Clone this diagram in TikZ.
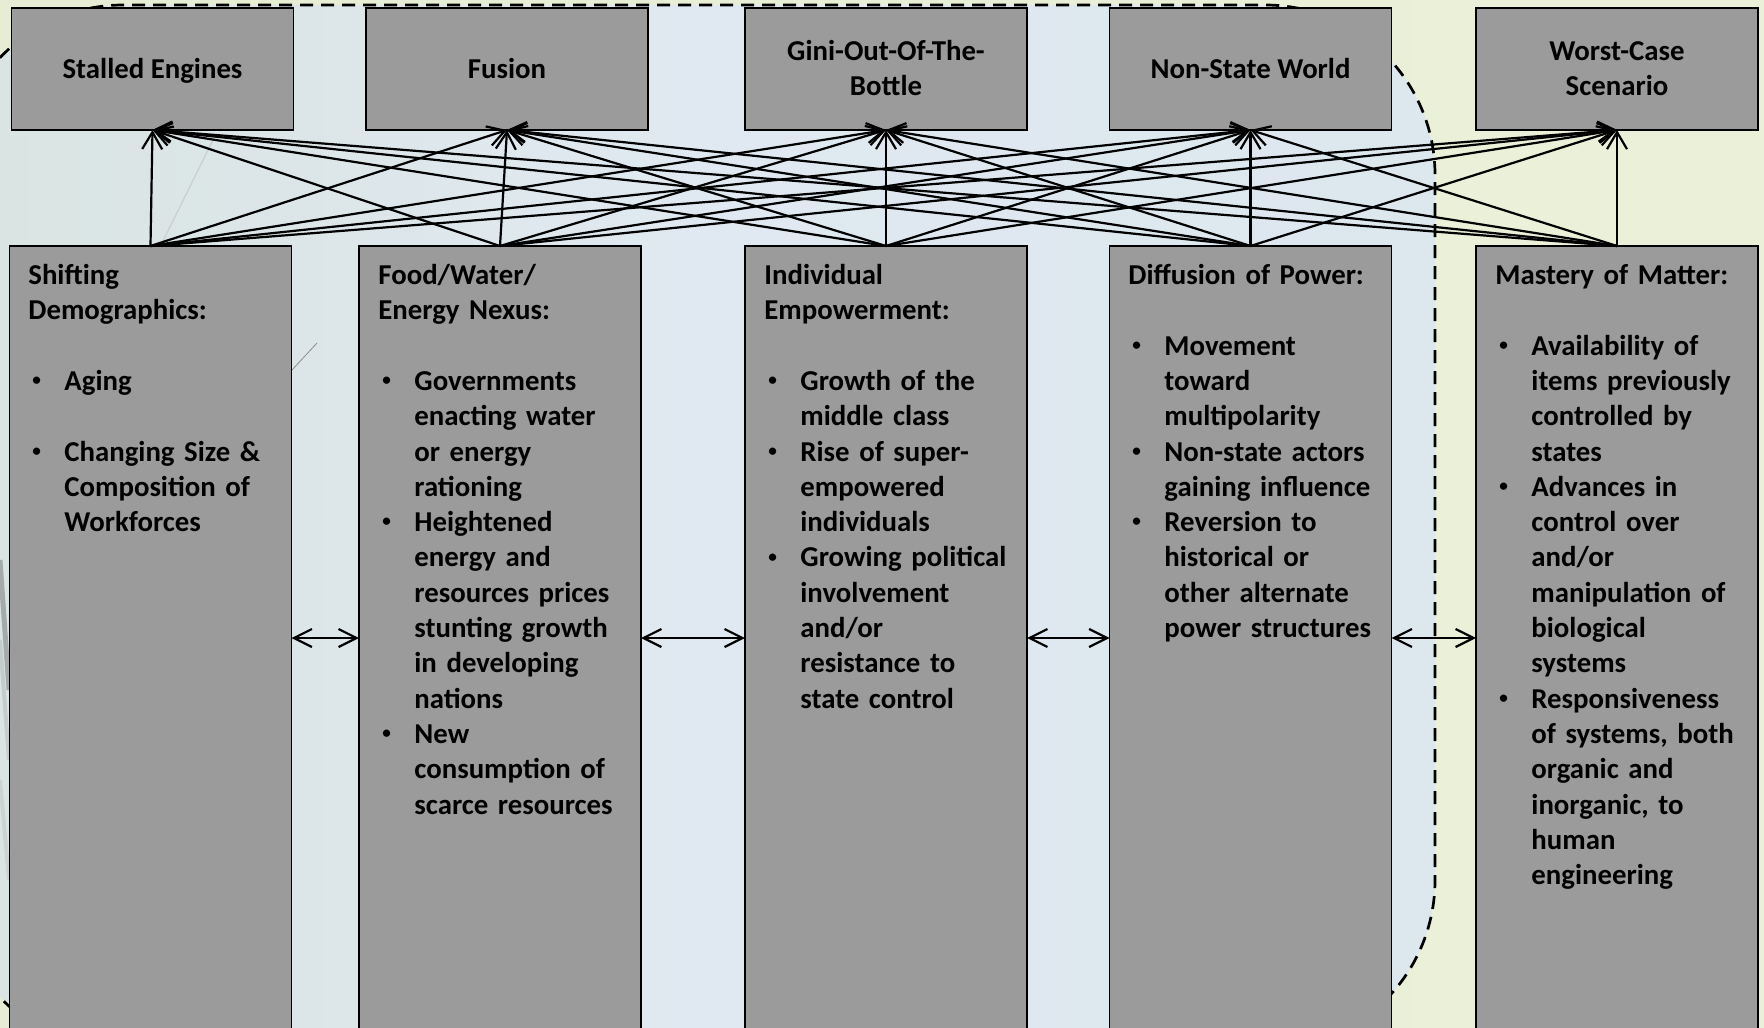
\documentclass[tikz,border=0pt]{standalone}
\usepackage{fontspec}
\setmainfont{Carlito}
\usetikzlibrary{arrows.meta,calc}

\definecolor{boxgray}{RGB}{155,155,155}
\definecolor{outerA}{HTML}{E4EBD1}
\definecolor{outerB}{HTML}{EEF3DB}
\definecolor{innerA}{HTML}{CCDBD1}
\definecolor{innerB}{HTML}{D9E4E2}
\definecolor{innerC}{HTML}{E0E9F1}
\definecolor{innerD}{HTML}{DDE7EE}
\definecolor{innerE}{HTML}{D4E0E0}

\pgfdeclarehorizontalshading{outershade}{100bp}{color(0bp)=(outerA); color(100bp)=(outerB)}
\pgfdeclarehorizontalshading{innershade}{100bp}{color(0bp)=(innerA); color(25bp)=(innerB); color(50bp)=(innerC); color(75bp)=(innerD); color(100bp)=(innerE)}

% bullet and continuation indents for the list text
\newcommand{\bitem}{\makebox[18pt][l]{\hspace*{2pt}\raisebox{2.4pt}{\fontsize{8.6pt}{8.6pt}\selectfont•}}}
\newcommand{\bcont}{\hspace*{18pt}}

\begin{document}
\begin{tikzpicture}[x=0.5pt,y=-0.5pt,
  boxfont/.style={font=\fontsize{14.4pt}{17.65pt}\selectfont\bfseries},
  topbox/.style={draw=black, line width=0.75pt, fill=boxgray, rectangle,
    minimum width=141pt, minimum height=61pt, inner sep=0pt, outer sep=0pt},
  toplabel/.style={align=center, inner sep=0pt, boxfont},
  listbox/.style={draw=black, line width=0.75pt, fill=boxgray, rectangle,
    minimum width=141pt, minimum height=397pt, inner sep=0pt, outer sep=0pt},
  listtext/.style={anchor=north west, inner sep=0pt, text width=138pt,
    align=left, boxfont},
  conn/.style={draw=black, line width=1.1pt,
    -{Straight Barb[length=8.5pt,width=10pt,line width=1.1pt]}},
  twoway/.style={draw=black, line width=1.1pt,
    {Straight Barb[length=9pt,width=9pt,line width=1.1pt]}-{Straight Barb[length=9pt,width=9pt,line width=1.1pt]}},
  frame/.style={draw=black, line width=1.35pt, dash pattern=on 6.5pt off 4pt,
    rounded corners=85pt},
  faint/.style={draw=black!25, line width=0.6pt, opacity=0.6}
]
\useasboundingbox (0,0) rectangle (1764,1027);
\clip (0,0) rectangle (1764,1027);

% page background and the dashed region
\shade[shading=outershade] (0,0) rectangle (1764,1027);
\shade[shading=innershade, rounded corners=85pt] (-47,5) rectangle (1435,1050);
\draw[frame] (-47,5) rectangle (1435,1050);

% faint background strokes
\draw[faint] (160,247) -- (213,140);
\draw[draw=black!45, line width=0.4pt] (292,370) -- (317,343);
\draw[draw=black!55, line width=2.5pt, opacity=0.5] (0,560) -- (9,690);
\draw[draw=black!40, line width=2pt, opacity=0.3] (0,640) -- (9,760);
\draw[draw=black!35, line width=2pt, opacity=0.25] (0,780) -- (9,880);

% scenario boxes
\node[topbox] (t1) at (152.5,69) {};
\node[topbox] (t2) at (507,69) {};
\node[topbox] (t3) at (886,69) {};
\node[topbox] (t4) at (1250.5,69) {};
\node[topbox] (t5) at (1617,69) {};
\node[toplabel] (l1) at (152.5,71) {\strut Stalled Engines};
\node[toplabel] (l2) at (507,71) {\strut Fusion};
\node[toplabel] (l3) at (886,71) {\strut Gini-Out-Of-The-\\\strut Bottle};
\node[toplabel] (l4) at (1250.5,71) {\strut Non-State World};
\node[toplabel] (l5) at (1617,71) {\strut Worst-Case\\\strut Scenario};

% trend boxes
\node[listbox] (b1) at (150.5,643) {};
\node[listbox] (b2) at (500,643) {};
\node[listbox] (b3) at (886,643) {};
\node[listbox] (b4) at (1250.5,643) {};
\node[listbox] (b5) at (1617,643) {};

% every trend feeds every scenario
\foreach \b in {1,...,5}
  \foreach \t in {1,...,5}
    \draw[conn] (b\b.north) -- (t\t.south);

% links between neighbouring trends
\coordinate (lvl) at (0,638);
\draw[twoway] (b1.east |- lvl) -- (b2.west |- lvl);
\draw[twoway] (b2.east |- lvl) -- (b3.west |- lvl);
\draw[twoway] (b3.east |- lvl) -- (b4.west |- lvl);
\draw[twoway] (b4.east |- lvl) -- (b5.west |- lvl);

% trend texts
\node[listtext] (x1) at (28,259.4) {\strut Shifting\\
Demographics:\\
\mbox{}\\
\bitem Aging\\
\mbox{}\\
\bitem Changing Size \&\\
\bcont Composition of\\
\bcont Workforces};

\node[listtext] (x2) at (378,259.4) {\strut Food/Water/\\
Energy Nexus:\\
\mbox{}\\
\bitem Governments\\
\bcont enacting water\\
\bcont or energy\\
\bcont rationing\\
\bitem Heightened\\
\bcont energy and\\
\bcont resources prices\\
\bcont stunting growth\\
\bcont in developing\\
\bcont nations\\
\bitem New\\
\bcont consumption of\\
\bcont scarce resources};

\node[listtext] (x3) at (764,259.4) {\strut Individual\\
Empowerment:\\
\mbox{}\\
\bitem Growth of the\\
\bcont middle class\\
\bitem Rise of super-\\
\bcont empowered\\
\bcont individuals\\
\bitem Growing political\\
\bcont involvement\\
\bcont and/or\\
\bcont resistance to\\
\bcont state control};

\node[listtext] (x4) at (1128,259.4) {\strut Diffusion of Power:\\
\mbox{}\\
\bitem Movement\\
\bcont toward\\
\bcont multipolarity\\
\bitem Non-state actors\\
\bcont gaining influence\\
\bitem Reversion to\\
\bcont historical or\\
\bcont other alternate\\
\bcont power structures};

\node[listtext] (x5) at (1495,259.4) {\strut Mastery of Matter:\\
\mbox{}\\
\bitem Availability of\\
\bcont items previously\\
\bcont controlled by\\
\bcont states\\
\bitem Advances in\\
\bcont control over\\
\bcont and/or\\
\bcont manipulation of\\
\bcont biological\\
\bcont systems\\
\bitem Responsiveness\\
\bcont of systems, both\\
\bcont organic and\\
\bcont inorganic, to\\
\bcont human\\
\bcont engineering};
\end{tikzpicture}
\end{document}
